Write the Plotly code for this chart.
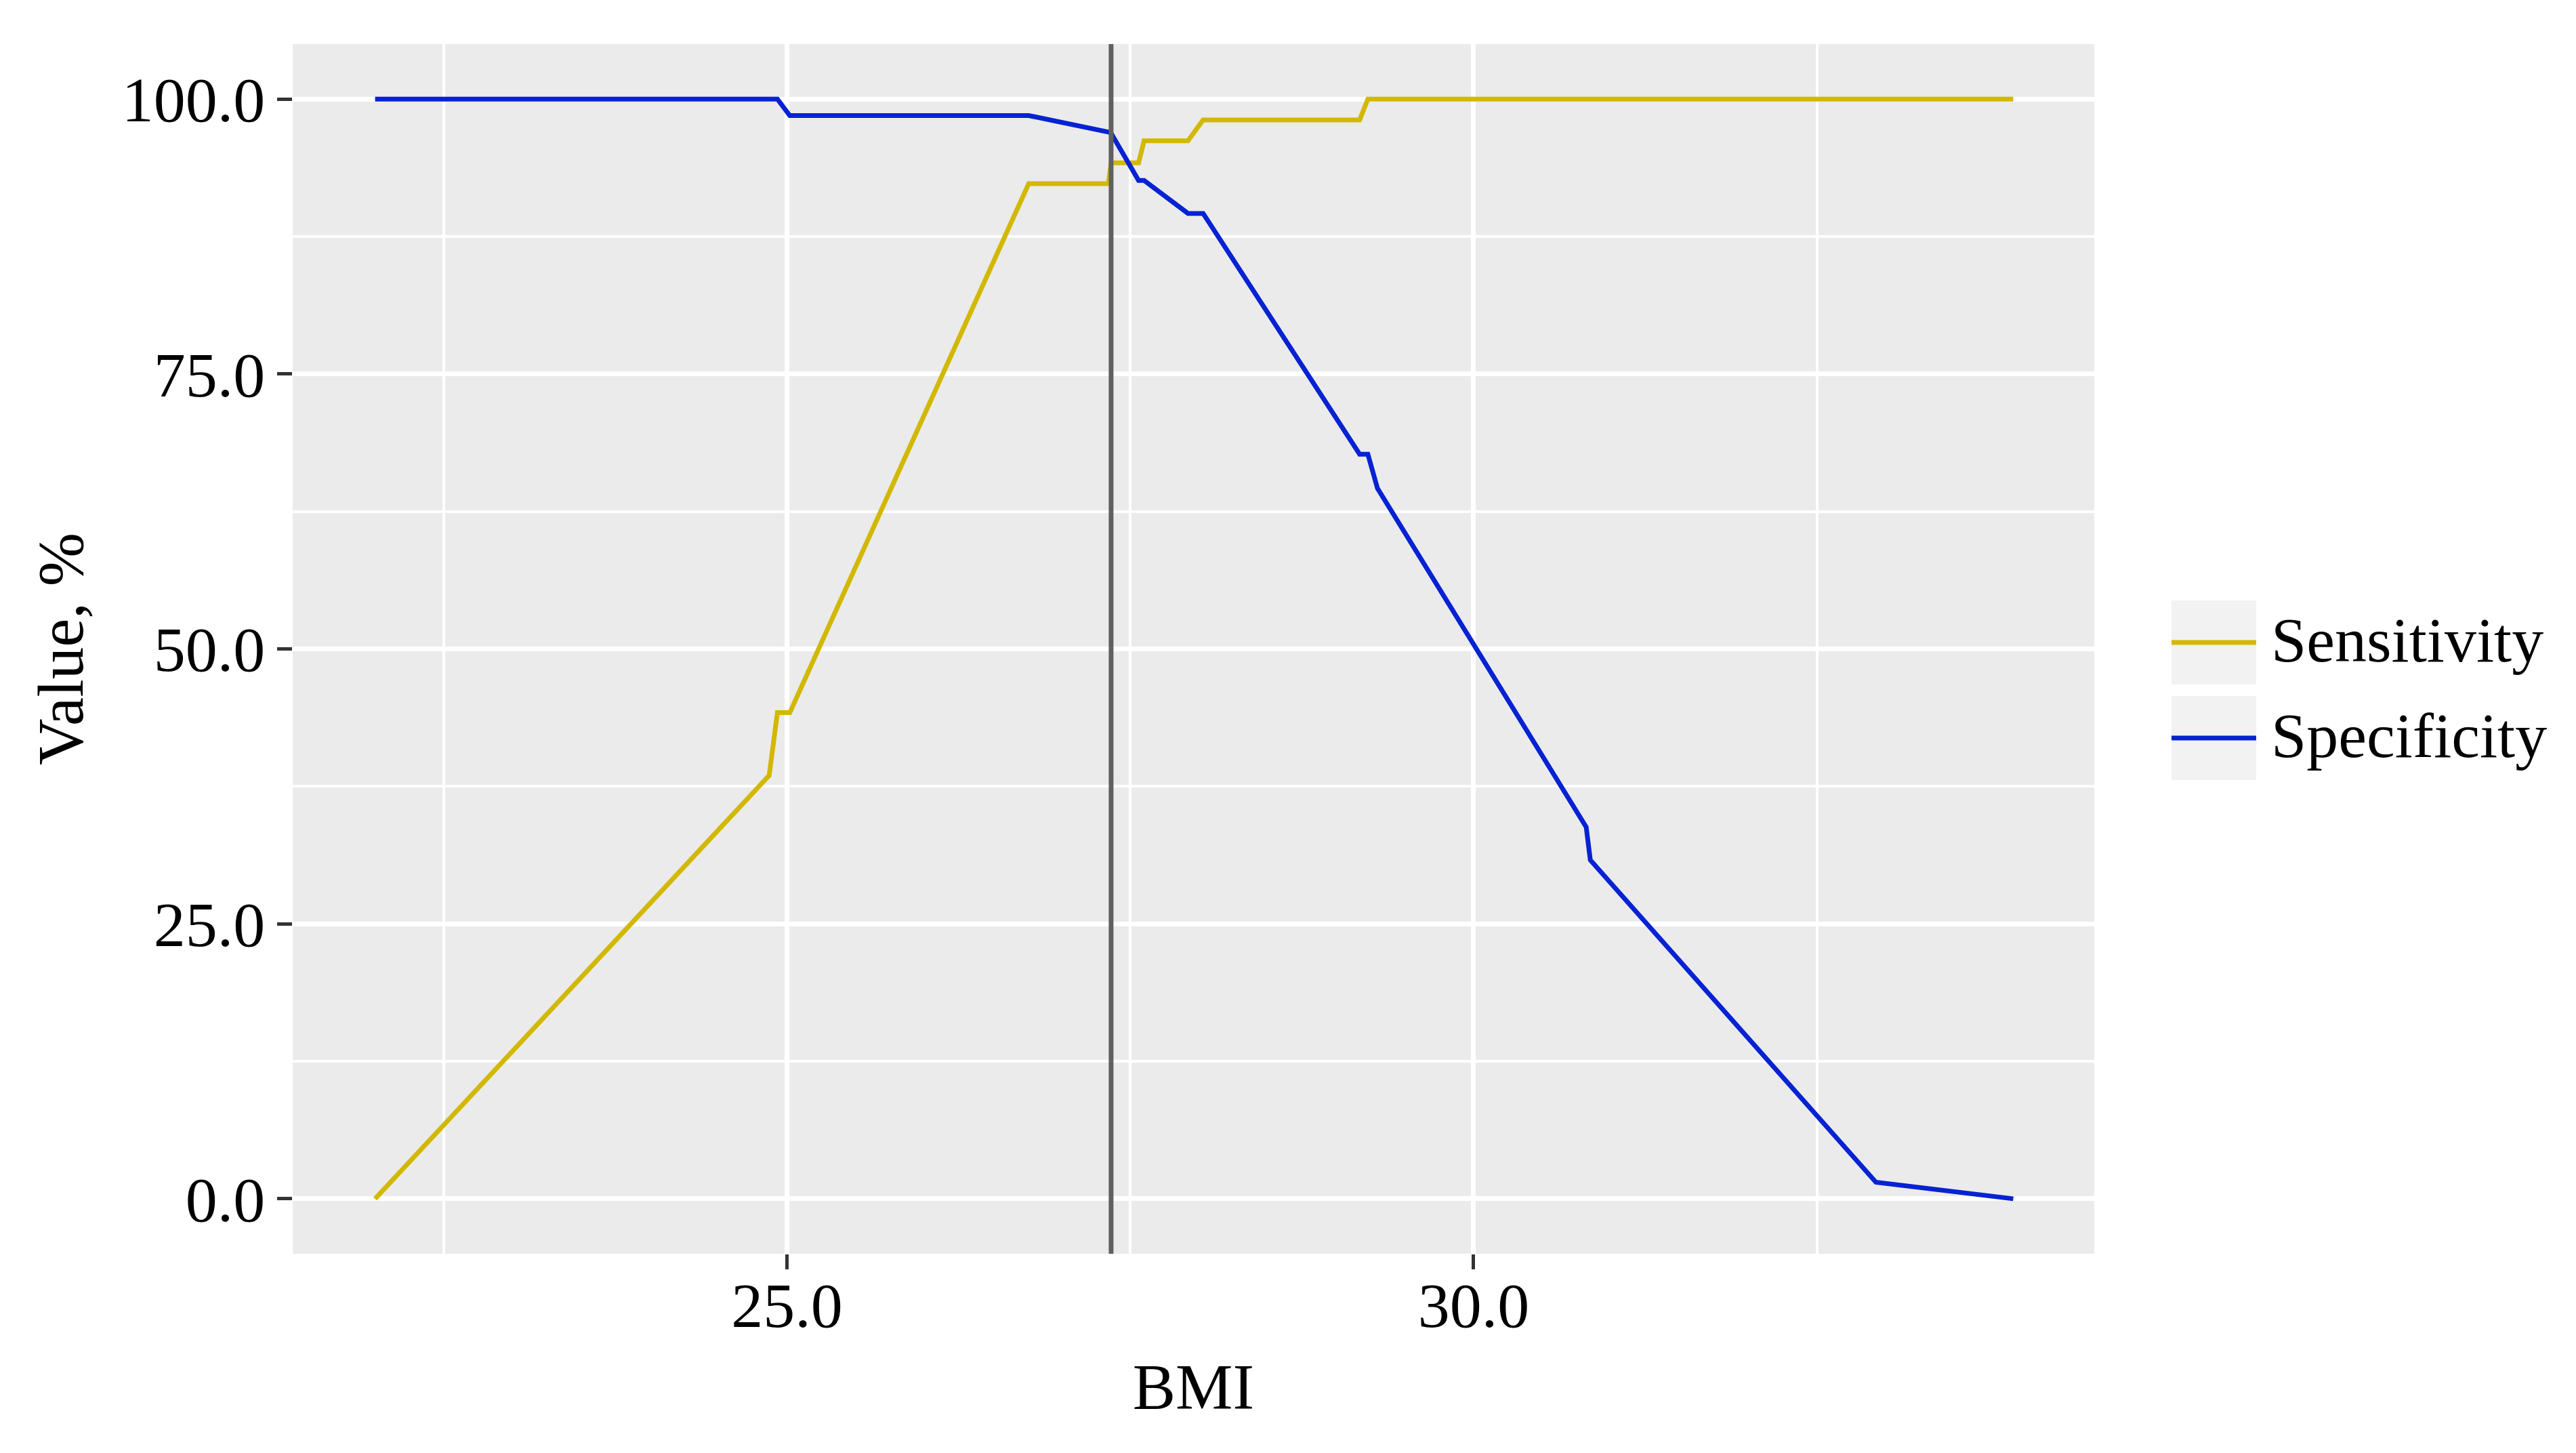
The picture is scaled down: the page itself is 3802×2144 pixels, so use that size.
import plotly.graph_objects as go

# BMI cut-off points and the two curves
bmi = [22.0, 24.87, 24.93, 25.02, 26.76, 27.34, 27.36, 27.56, 27.60, 27.92,
       28.03, 29.17, 29.23, 29.30, 30.82, 30.85, 32.93, 33.93]
sensitivity = [0.0, 38.5, 44.2, 44.2, 92.3, 92.3, 94.2, 94.2, 96.2, 96.2,
               98.1, 98.1, 100.0, 100.0, 100.0, 100.0, 100.0, 100.0]
specificity = [100.0, 100.0, 100.0, 98.5, 98.5, 97.0, 96.9, 92.6, 92.6, 89.6,
               89.6, 67.7, 67.7, 64.6, 33.8, 30.8, 1.5, 0.0]
cutoff = 27.36
series_names = ["Sensitivity", "Specificity"]

SENS_COLOR = "#D2B800"
SPEC_COLOR = "#0622D2"
FONT = "Liberation Serif"
LINE_W = 7

# page has an 8px body margin, so the figure is shrunk and shifted to match
PAGE_PAD = 8
W, H = 3802, 2144
L, R, T, B = 432, 711, 65, 294
fig_w, fig_h = W - 2 * PAGE_PAD, H - 2 * PAGE_PAD
m_l, m_r, m_t, m_b = L - PAGE_PAD, R - PAGE_PAD, T - PAGE_PAD, B - PAGE_PAD


def paper_x(px):
    return (px - L) / (W - L - R)


def paper_y(py):
    return (H - B - py) / (H - T - B)


fig = go.Figure()
for name, vals, col in zip(series_names, [sensitivity, specificity], [SENS_COLOR, SPEC_COLOR]):
    fig.add_trace(go.Scatter(x=bmi, y=vals, mode="lines", name=name,
                             line=dict(color=col, width=LINE_W), showlegend=False))

fig.add_vline(x=cutoff, line_color="#606060", line_width=7)

# legend drawn ggplot-style: grey key boxes with a line segment
key_x0, key_x1 = 3205, 3330
for i, (name, col) in enumerate(zip(series_names, [SENS_COLOR, SPEC_COLOR])):
    top = 886 + i * 141
    bot = top + 124
    mid = (top + bot) / 2
    fig.add_shape(type="rect", xref="paper", yref="paper",
                  x0=paper_x(key_x0), x1=paper_x(key_x1), y0=paper_y(bot), y1=paper_y(top),
                  fillcolor="#F2F2F2", line_width=0, layer="below")
    fig.add_shape(type="line", xref="paper", yref="paper",
                  x0=paper_x(key_x0), x1=paper_x(key_x1), y0=paper_y(mid), y1=paper_y(mid),
                  line=dict(color=col, width=LINE_W))
    fig.add_annotation(text=name, xref="paper", yref="paper", x=paper_x(3350), y=paper_y(mid - 4),
                       xanchor="left", yanchor="middle", showarrow=False,
                       font=dict(family=FONT, size=94, color="black"))

axis_common = dict(
    showgrid=True, gridcolor="white", gridwidth=7,
    zeroline=False, showline=False,
    ticks="outside", ticklen=22, tickwidth=5, tickcolor="#333333",
    tickformat=".1f",
    tickfont=dict(family=FONT, size=94, color="black"),
)

fig.update_layout(
    width=fig_w, height=fig_h,
    margin=dict(l=m_l, r=m_r, t=m_t, b=m_b),
    paper_bgcolor="white", plot_bgcolor="#EBEBEB",
    xaxis=dict(axis_common, range=[21.40, 34.52], tick0=0, dtick=5, ticklabelstandoff=-28,
               minor=dict(tick0=0, dtick=2.5, showgrid=True, gridcolor="white", gridwidth=3.5, ticks=""),
               title=dict(text="BMI", font=dict(family=FONT, size=95, color="black"), standoff=35)),
    yaxis=dict(axis_common, range=[-5, 105], tick0=0, dtick=25, ticklabelstandoff=-1,
               minor=dict(tick0=0, dtick=12.5, showgrid=True, gridcolor="white", gridwidth=3.5, ticks=""),
               title=dict(text="Value, %", font=dict(family=FONT, size=95, color="black"), standoff=25)),
)

fig.write_html("out.html")
